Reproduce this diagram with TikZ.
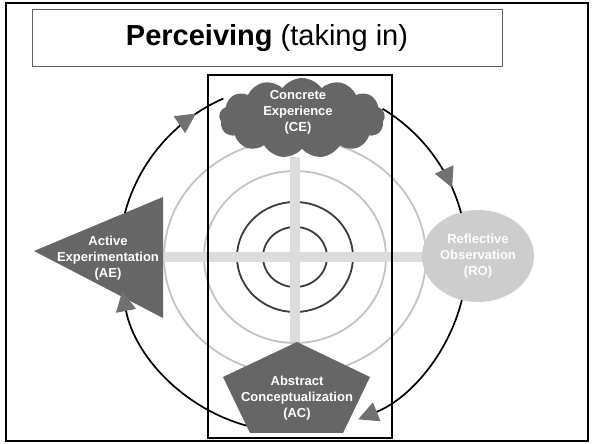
\documentclass[tikz,border=0pt]{standalone}
\usepackage{fontspec}
\setmainfont{Liberation Sans}
\usetikzlibrary{arrows.meta,shapes.symbols,shapes.geometric,decorations.markings,calc}
\definecolor{shapegray}{HTML}{666666}
\definecolor{tipgray}{HTML}{717171}
\definecolor{rogray}{HTML}{CDCDCD}
\definecolor{ringlight}{HTML}{C4C4C4}
\definecolor{ringdark}{HTML}{3C3C3C}
\definecolor{bargray}{HTML}{DCDCDC}
\definecolor{titleedge}{HTML}{606060}

\begin{document}
\begin{tikzpicture}[x=1pt,y=1pt,
  stagetext/.style={align=center, text=white, font=\fontsize{13}{16}\selectfont\bfseries, inner sep=0pt},
  lightring/.style={draw=ringlight, line width=1.8pt},
  darkring/.style={draw=ringdark, line width=1.8pt},
  crossbar/.style={draw=bargray, line width=10pt},
  cycleline/.style={draw=black, line width=1.7pt},
  tiphead/.style={-{Triangle[length=20pt,width=20pt,color=tipgray]}},
  midhead/.style={postaction={decorate}, decoration={markings,
      mark=at position #1 with {\arrow{Triangle[length=20pt,width=20pt,color=tipgray]}}}},
]
% canvas
\fill[white] (0,0) rectangle (592,444);
\useasboundingbox (0,0) rectangle (592,444);

% target rings
\draw[lightring] (295,187) ellipse [x radius=131, y radius=118];
\draw[lightring] (295,187) ellipse [x radius=91, y radius=86];
\draw[darkring] (295,187) ellipse [x radius=58, y radius=55];
\draw[darkring] (295,187) ellipse [x radius=32, y radius=30];

% cross bars
\draw[crossbar] (163,187) -- (425,187);
\draw[crossbar] (295,287) -- (295,102);

% Concrete Experience (cloud)
\node[cloud, cloud puffs=13, cloud puff arc=110, aspect=2.1, fill=shapegray,
      minimum width=166pt, minimum height=80pt, inner sep=0pt] (ce) at (302,326) {};
\node[stagetext] (ce-label) at (298,332) {Concrete\\Experience\\(CE)};

% Active Experimentation (triangle)
\fill[shapegray] (34,193) -- (163,247) -- (163,126) -- cycle;
\node[stagetext] (ae) at (108,186) {Active\\Experimentation\\(AE)};

% Reflective Observation (ellipse)
\node[ellipse, fill=rogray, minimum width=112pt, minimum height=92pt, inner sep=0pt,
      stagetext] (ro) at (478,188) {Reflective\\Observation\\(RO)};

% Abstract Conceptualization (pentagon)
\fill[shapegray] (297,102) -- (370,67) -- (343,11) -- (250,11) -- (223,67) -- cycle;
\node[stagetext] (ac) at (297,46) {Abstract\\Conceptualization\\(AC)};

% perceiving axis frame
\draw[line width=2.5pt] (208,6) rectangle (392,369);

% learning cycle
\coordinate (O) at (293,186);
\coordinate (ce-out) at ($(O)+(59:174)$);
\coordinate (ro-out) at ($(O)+(-14:174)$);
\coordinate (ac-out) at ($(O)+(-105.5:174)$);
\coordinate (ae-out) at ($(O)+(165:174)$);
\draw[cycleline, midhead=0.8] (ce-out) arc[start angle=59, end angle=15, radius=174];
\draw[cycleline, tiphead] (ro-out) arc[start angle=-14, end angle=-68, radius=174];
\draw[cycleline, tiphead] (ac-out) arc[start angle=-105.5, end angle=-169, radius=174];
\draw[cycleline, midhead=0.8] (ae-out) arc[start angle=165, end angle=113.6, radius=174];

% heading
\node[draw=titleedge, line width=1pt, minimum width=470pt, minimum height=57pt, inner sep=0pt,
      font=\fontsize{29}{34}\selectfont] (title) at (267,405.5) {\textbf{Perceiving} (taking in)};

% outer frame
\draw[line width=2pt] (6,3) rectangle (588,441);
\end{tikzpicture}
\end{document}
